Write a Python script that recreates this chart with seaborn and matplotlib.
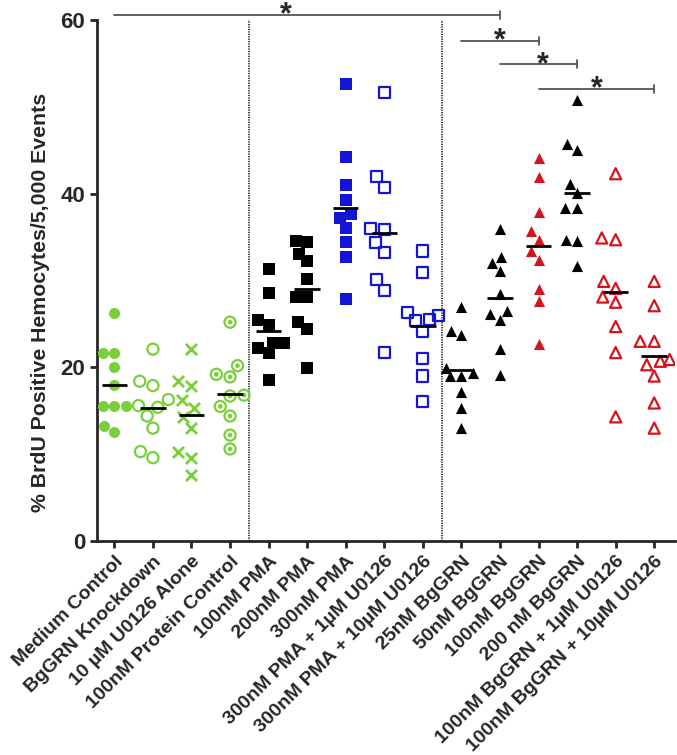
import numpy as np
import pandas as pd
import seaborn as sns
import matplotlib.pyplot as plt
from matplotlib.path import Path

# categories and values (10 replicates per condition)
categories = ['Medium Control', 'BgGRN Knockdown', '10 µM U0126 Alone', '100nM Protein Control',
              '100nM PMA', '200nM PMA', '300nM PMA', '300nM PMA + 1µM U0126',
              '300nM PMA + 10µM U0126', '25nM BgGRN', '50nM BgGRN', '100nM BgGRN',
              '200 nM BgGRN', '100nM BgGRN + 1µM U0126', '100nM BgGRN + 10µM U0126']

medium = [26.3, 21.6, 21.6, 20.0, 18.0, 15.5, 15.5, 15.5, 13.2, 12.6]
knockdown = [22.1, 18.4, 17.9, 16.3, 15.6, 15.4, 14.4, 13.0, 10.3, 9.6]
u0126 = [22.1, 18.4, 17.9, 16.2, 15.3, 14.3, 13.0, 10.3, 9.6, 7.6]
protein = [25.2, 20.2, 19.2, 18.9, 16.8, 16.7, 15.5, 14.4, 12.2, 10.6]
pma100 = [31.3, 28.6, 25.5, 24.9, 22.8, 22.8, 22.2, 21.6, 18.5]
pma200 = [34.5, 34.4, 33.1, 32.2, 30.2, 28.1, 28.1, 25.2, 24.4, 19.9]
pma300 = [52.6, 44.2, 41.0, 39.3, 37.7, 37.2, 36.1, 34.4, 32.7, 27.9]
pma_u1 = [51.7, 42.0, 40.7, 36.0, 35.9, 34.4, 33.2, 30.1, 28.8, 21.7]
pma_u10 = [33.4, 30.9, 26.3, 26.0, 25.5, 25.4, 24.1, 21.0, 19.0, 16.1]
bg25 = [26.9, 24.2, 23.7, 19.9, 19.3, 19.0, 19.0, 17.2, 15.3, 13.0]
bg50 = [35.9, 32.7, 32.0, 31.1, 28.5, 26.5, 26.2, 25.5, 22.1, 19.1]
bg100 = [44.1, 41.9, 37.9, 35.7, 34.7, 33.4, 32.4, 29.0, 27.6, 22.7]
bg200 = [50.8, 45.7, 45.0, 41.1, 40.1, 38.4, 38.4, 34.7, 34.5, 31.7]
bg_u1 = [42.3, 34.9, 34.7, 29.9, 29.1, 28.1, 27.5, 24.7, 21.7, 14.3]
bg_u10 = [29.9, 27.1, 23.0, 23.0, 20.9, 20.7, 20.3, 19.0, 15.9, 13.0]

values = [medium, knockdown, u0126, protein, pma100, pma200, pma300, pma_u1, pma_u10,
          bg25, bg50, bg100, bg200, bg_u1, bg_u10]

# significance brackets: (start group, end group), bracket height, star position
brackets = [(0, 10), (9, 11), (10, 12), (11, 14)]
bracket_y = [60.6, 57.6, 54.9, 52.1]
star_x = [4.45, 10.0, 11.1, 12.5]

df = pd.DataFrame({'group': np.repeat(categories, [len(v) for v in values]),
                   'value': np.concatenate(values)})

green, blue, red, black = '#79D03A', '#1414D4', '#D4141E', '#000000'
dot_circle = Path.make_compound_path(Path.unit_circle(), Path.circle((0, 0), 0.22))
# marker, colour, filled
styles = [('o', green, True), ('o', green, False), ('x', green, True), (dot_circle, green, False),
          ('s', black, True), ('s', black, True), ('s', blue, True), ('s', blue, False),
          ('s', blue, False), ('^', black, True), ('^', black, True), ('^', red, True),
          ('^', black, True), ('^', red, False), ('^', red, False)]

sns.set_style('ticks')
plt.rcParams['font.family'] = ['Liberation Sans', 'DejaVu Sans']
plt.rcParams['font.weight'] = 'bold'

fig = plt.figure(figsize=(6.77, 7.55), dpi=100)
ax = fig.add_axes([0.1433, 0.2834, 0.8538, 0.6901])

for cat, (marker, col, filled) in zip(categories, styles):
    sub = df[df['group'] == cat]
    if filled:
        kw = dict(color=col, edgecolor=col, linewidth=2 if marker == 'x' else 0)
    else:
        kw = dict(color=col, facecolor='none', edgecolor=col, linewidth=1.6)
    sns.swarmplot(data=sub, x='group', y='value', order=categories, ax=ax,
                  marker=marker, size=8, **kw)

# group means as short black bars
means = df.groupby('group', sort=False)['value'].mean().reindex(categories)
pos = np.arange(len(categories))
ax.hlines(means.values, pos - 0.33, pos + 0.33, color='black', lw=2, zorder=3)

# dotted separators between treatment blocks
for xsep in (3.5, 8.5):
    ax.axvline(xsep, color='black', ls=(0, (0.8, 0.8)), lw=1.1, zorder=1)

# significance brackets above the data
for (a, b), yb, xs in zip(brackets, bracket_y, star_x):
    ax.plot([a, b], [yb, yb], color='#555555', lw=1.3, clip_on=False)
    ax.plot([b, b], [yb - 0.45, yb + 0.45], color='#555555', lw=1.3, clip_on=False)
    ax.text(xs, yb - 1.0, '*', ha='center', va='baseline', fontsize=22,
            fontweight='bold', clip_on=False)

ax.set_xlim(-0.45, 14.54)
ax.set_ylim(0, 60)
ax.set_yticks([0, 20, 40, 60])
ax.set_xticks(pos)
ax.set_xticklabels(categories, rotation=45, ha='right', rotation_mode='anchor',
                   fontsize=14, fontweight='bold')
ax.tick_params(axis='y', labelsize=16, width=2, length=5)
ax.tick_params(axis='x', width=2, length=5)
for lab in ax.get_yticklabels():
    lab.set_fontweight('bold')
ax.set_xlabel('')
ax.set_ylabel('% BrdU Positive Hemocytes/5,000 Events', fontsize=15.3,
              fontweight='bold')
ax.yaxis.set_label_coords(-0.082, 0.457)
sns.despine(ax=ax)
for sp in ('left', 'bottom'):
    ax.spines[sp].set_linewidth(2)

fig.savefig('out.png', dpi=100)
